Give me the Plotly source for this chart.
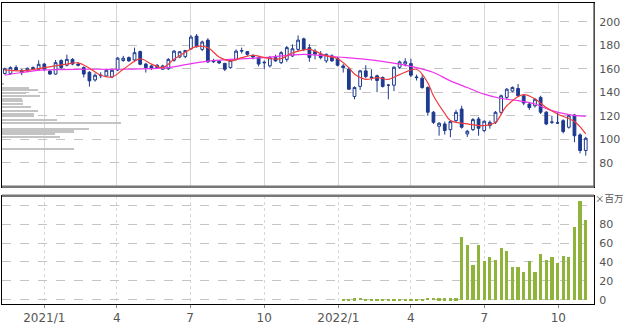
import pandas as pd
import plotly.graph_objects as go

# ---- data ----
start_date = "2020-11-13"
n_weeks = 104
opens = [156,156,161,158.7,158,161,159.6,164,158,155.5,167,163,168,164,161,157,150.5,154,153.9,153,
         159,167,169.5,167.5,174.6,164,162.4,161,159.6,160,167.2,170,170.3,177,187.8,176.5,184.4,167,166.5,164.6,
         161,168,175,174.6,171.5,169.5,165,162.5,169.5,165.2,168,170.9,176.5,185.5,178,175,172.3,166.7,171,168.7,
         162.4,159.6,136.4,145,158.2,153,154,152.5,146,146,161.3,164,164.4,153,152,144,123,111,113,108.2,
         115.8,125.7,104.5,108.2,117.2,107.4,111.6,114.4,122.9,135.6,141,143.2,137,130,128.5,135.6,123,114.4,114,115.8,
         110.2,120.6,103.7,90.4]
highs = [161,162,163,160,161,162,167.2,165,159,167.5,168,172,169,165.5,162,158,156,157,160,160,
         170,171,170.5,178,175.5,165,163,164,163.5,169,176,175,176,188.7,189.5,184,186,168.5,167,165,
         168,176.5,178,175,172,170.5,167,171,172,175,179.5,180.8,188.4,186.5,181,177,175,173,172.3,170,
         164,161,145,159,163,159.6,155,153.5,147,162,167,169,168.6,155,155,145,124,114.5,115,116,
         125,128.5,108,118,119,116,116,124,138,143.5,145,147,138,131.5,135,137,124,120,122.9,117,
         121,121.5,105,102]
lows = [155,155,158,154.5,157,159,159,158,155,155,160,162,163,162,152.6,144.9,149,152,153,152,
        158,166,166,166,163,156.8,159,160,159,159,166,169,169,176,178,175,165,165,164,158,
        160,167,173,171,168,162,159.6,161,166,164,166,170,175,175,166,168,168,165,166,162,
        156.8,142,134,142,152,150,140,144,134,141,160,162,153,150,143,120,113,103,104,101.7,
        114,109,102,107,103,106,109,113,121,134,140,136,129,125,127,121.5,112,113,113,105,
        109,97.5,88,86]
closes = [160,161,159,156.7,160.4,160,163.8,159.6,155.5,165.2,161,168,164,163,155.5,149.7,154.5,154.5,158.7,158.7,
          169,169,166.7,173.7,163.8,161,160.2,163,162.4,168,175,174.5,175.6,187,178.8,182.8,165.8,166,165,159.6,
          167.2,175,175.5,172.3,170,164,165.5,169.5,166.7,173.7,178,177,184.4,176.5,169.5,172.5,169.5,172.3,166.7,163,
          161,142.6,144,158.2,153.4,152.5,150,145,146,161.3,165.8,166,154.5,152.5,144,123,114.4,113.6,107.4,115,
          122.9,110.2,106.8,116.7,109.3,115.3,114.4,122.9,137,142.6,144,137,130.8,127,134,123,113,114.6,113.8,106.5,
          120,103,90.4,100.8]

# short moving average (red), read at selected weeks
ma_s_weeks = [0,3,7,11,13,15,17,19,21,24,26,28,30,32,34,36,38,40,42,44,47,49,51,54,55,57,59,61,62,64,66,68,70,
              73,75,76,78,79,82,85,87,89,92,94,96,98,101,103]
ma_s_vals = [159,158.2,161,164,165,160.5,154.5,153,159.5,168.5,164,161,168,174,179,178,170,166.7,169.5,171.5,168.6,
             168.6,173.5,176.5,175,171,168.6,161,155.5,151,152.5,151,155,159.6,148,137,122,116,113,111.6,114.4,
             128.5,138,134.2,127,121.5,115,104.5]
# long moving average (magenta)
ma_l_weeks = [0,3,7,14,20,29,32,36,40,46,53,59,64,70,73,76,79,82,85,88,91,94,97,100,103]
ma_l_vals = [154.5,156.8,159,159.6,159.6,161,163.5,166.5,168,169.5,172.3,170,168,164,161,156.8,149.7,144,138.4,
             134.7,132.8,130,124.3,121,119.5]

# volume (millions), starting at week 60
vol_start_week = 60
volumes = [0.5,1.5,2.0,2.5,1.5,1.2,1.0,1.0,1.2,1.0,1.0,1.0,1.0,1.0,1.5,2.5,2.5,2.0,2.0,2.0,2.0,
           66.7,58.6,37.5,58.6,41,45,42.8,55.4,51.6,35,34.4,29.8,41.4,29.8,49,42,45,39.6,46.7,45,77.2,104.6,85]

# volume-at-price profile
prof_prices = [146.9,144.1,142,139.8,137,134.7,132.7,129.9,128,124.2,122,120,116.6,114.4,109.3,106.8,104.5,102.2,91.8]
prof_vols = [2,27,36,24,38,20,21,21,29,36,32,32,55,119,87,72,53,58,72]

x_tick_vals = ["2021-01-01","2021-04-01","2021-07-01","2021-10-01","2022-01-01","2022-04-01","2022-07-01","2022-10-01"]
x_tick_text = ["2021/1","4","7","10","2022/1","4","7","10"]
price_ticks = [80,100,120,140,160,180,200]
vol_ticks = [0,20,40,60,80,100]
vol_tick_text = ["0","20","40","60","80",""]

# ---- figure ----
dates = pd.date_range(start_date, periods=n_weeks, freq="7D")
navy = "#1d3a8f"
grid = "#c4c4c4"
tickfont = dict(family="DejaVu Sans", size=11, color="#555555")

fig = go.Figure()
fig.add_trace(go.Bar(x=prof_vols, y=prof_prices, orientation="h", width=1.3,
                     marker=dict(color="#c4c4c4", line=dict(width=0)),
                     xaxis="x3", yaxis="y", showlegend=False, hoverinfo="skip"))
fig.add_trace(go.Candlestick(x=dates, open=opens, high=highs, low=lows, close=closes,
                             increasing=dict(line=dict(color=navy, width=1), fillcolor="#ffffff"),
                             decreasing=dict(line=dict(color=navy, width=1), fillcolor=navy),
                             whiskerwidth=0, xaxis="x", yaxis="y", showlegend=False))
fig.add_trace(go.Scatter(x=[dates[w] for w in ma_l_weeks], y=ma_l_vals, mode="lines",
                         line=dict(color="#ee33ee", width=1.2, shape="spline"), xaxis="x", yaxis="y",
                         showlegend=False))
fig.add_trace(go.Scatter(x=[dates[w] for w in ma_s_weeks], y=ma_s_vals, mode="lines",
                         line=dict(color="#f03c3c", width=1.2, shape="spline"), xaxis="x", yaxis="y",
                         showlegend=False))
fig.add_trace(go.Bar(x=dates[vol_start_week:], y=volumes, marker=dict(color="#8fb43c", line=dict(width=0)),
                     width=4.0 * 24 * 3600 * 1000, xaxis="x2", yaxis="y2", showlegend=False))

xrange = ["2020-11-09 12:00", "2022-11-14 06:00"]
fig.update_layout(
    width=623, height=326,
    margin=dict(l=1, r=29, t=3, b=20),
    paper_bgcolor="white", plot_bgcolor="white",
    bargap=0,
    xaxis=dict(domain=[0, 1], range=xrange, type="date", anchor="y", rangeslider=dict(visible=False),
               tickvals=x_tick_vals, showticklabels=False, ticks="",
               showgrid=True, gridcolor="#d8d8d8", gridwidth=1,
               showline=True, linecolor="#000", mirror=True, zeroline=False),
    yaxis=dict(domain=[0.3894, 1], range=[59.5, 216], side="right", anchor="x",
               tickvals=price_ticks, tickfont=tickfont, ticks="", ticklabelstandoff=2,
               showgrid=True, gridcolor=grid, griddash="dash", gridwidth=1,
               showline=True, linecolor="#000", mirror=True, zeroline=False),
    xaxis2=dict(domain=[0, 1], range=xrange, type="date", anchor="y2", matches="x",
                tickvals=x_tick_vals, ticktext=x_tick_text, tickfont=dict(family="DejaVu Sans", size=12, color="#555555"),
                ticks="outside", ticklen=3, tickcolor="#888",
                showgrid=True, gridcolor="#d8d8d8", gridwidth=1, griddash="dot",
                showline=True, linecolor="#000", mirror=True, zeroline=False),
    yaxis2=dict(domain=[0, 0.3597], range=[-4.5, 110], side="right", anchor="x2",
                tickvals=vol_ticks, ticktext=vol_tick_text, tickfont=tickfont, ticks="", ticklabelstandoff=2,
                showgrid=True, gridcolor=grid, griddash="dash", gridwidth=1,
                showline=True, linecolor="#000", mirror=True, zeroline=False),
    xaxis3=dict(overlaying="x", anchor="y", range=[0, 594], visible=False),
    annotations=[dict(text="×百万", xref="paper", yref="paper", x=1.0, y=0.3597, xanchor="left", yanchor="middle",
                      xshift=-1, yshift=-2, showarrow=False,
                      font=dict(family="Noto Sans CJK JP", size=9.5, color="#555555"))],
    shapes=[
        dict(type="line", xref="x domain", yref="y domain", x0=0, x1=1, y0=0, y1=0,
             line=dict(color="#777777", width=2.5)),
        dict(type="line", xref="x2 domain", yref="y2 domain", x0=0, x1=1, y0=1, y1=1,
             line=dict(color="#777777", width=2.5)),
        dict(type="line", xref="x domain", yref="y domain", x0=1, x1=1, y0=0, y1=1,
             line=dict(color="#666666", width=1.5)),
    ],
)

fig.write_html("out.html")
